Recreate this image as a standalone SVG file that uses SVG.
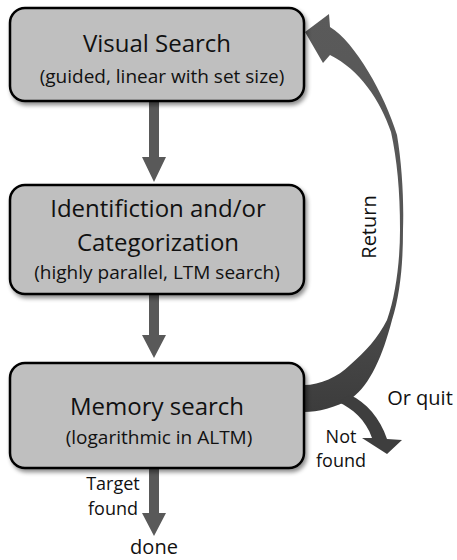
<svg xmlns="http://www.w3.org/2000/svg" width="457" height="560" viewBox="0 0 457 560">
<defs>
<filter id="sh" x="-10%" y="-10%" width="125%" height="130%">
<feDropShadow dx="2" dy="3" stdDeviation="2" flood-color="#000" flood-opacity="0.45"/>
</filter>
<linearGradient id="rg" x1="0" y1="0" x2="0" y2="1">
<stop offset="0" stop-color="#5a5a5a"/>
<stop offset="0.6" stop-color="#555"/>
<stop offset="1" stop-color="#3c3c3c"/>
</linearGradient>
<style>
.box{fill:#bfbfbf;stroke:#000;stroke-width:2.5;filter:url(#sh)}
.t{font-family:"Open Sans","Noto Sans",sans-serif;fill:#111;text-anchor:middle}
.big{font-size:24px}
.sub{font-size:19px}
.sm{font-size:18px}
.lab{font-size:20px}
.arr{fill:#595959}
.ret{fill:url(#rg)}
.q{fill:#3e3e3e}
</style>
</defs>
<rect width="457" height="560" fill="#fff"/>
<g id="connectors">
<path class="arr" d="M149 101 H159 V157 H166 L154 182 L142 157 H149 Z"/>
<path class="arr" d="M149 294 H159 V335 H166 L154 358 L142 335 H149 Z"/>
<path class="arr" d="M149 468 H159 V513 H166 L154 536 L142 513 H149 Z"/>
<path id="return" class="ret" d="M330 27 C355 42 385 95 397 135 C402 165 404 200 403 230 C403 265 400 295 392 320 C383 355 370 385 352 398 C335 408 318 412 304 412 L304 385 C320 385 338 377 350 365 C365 352 378 338 387 320 C396 295 400 260 400 230 C400 190 397 160 391 132 C380 100 360 70 330 55 L323 63 L305 32 L329 14 Z"/>
<path id="quit" class="q" d="M338 402 C352 408 366 420 372 438 L362 438 L387 454 L402 440 L387 439 C380 418 366 402 350 395 Z"/>
<text class="t lab" transform="translate(376 227) rotate(-90)">Return</text>
<text class="t lab" x="420" y="405">Or quit</text>
<text class="t sm" x="341" y="443">Not</text>
<text class="t sm" x="341" y="467">found</text>
<text class="t sm" x="113" y="490">Target</text>
<text class="t sm" x="113" y="515">found</text>
<text class="t lab" x="154" y="554">done</text>
</g>
<g id="visual-search">
<rect class="box" x="10" y="8" width="294" height="93" rx="15"/>
<text class="t big" x="157" y="52">Visual Search</text>
<text class="t sub" x="162" y="83">(guided, linear with set size)</text>
</g>
<g id="identification">
<rect class="box" x="10" y="185" width="294" height="109" rx="15"/>
<text class="t big" x="158" y="217">Identifiction and/or</text>
<text class="t big" x="158" y="251">Categorization</text>
<text class="t sub" x="157" y="279">(highly parallel, LTM search)</text>
</g>
<g id="memory-search">
<rect class="box" x="10" y="363" width="294" height="105" rx="15"/>
<text class="t big" x="157" y="415">Memory search</text>
<text class="t sub" x="159" y="444">(logarithmic in ALTM)</text>
</g>
</svg>
